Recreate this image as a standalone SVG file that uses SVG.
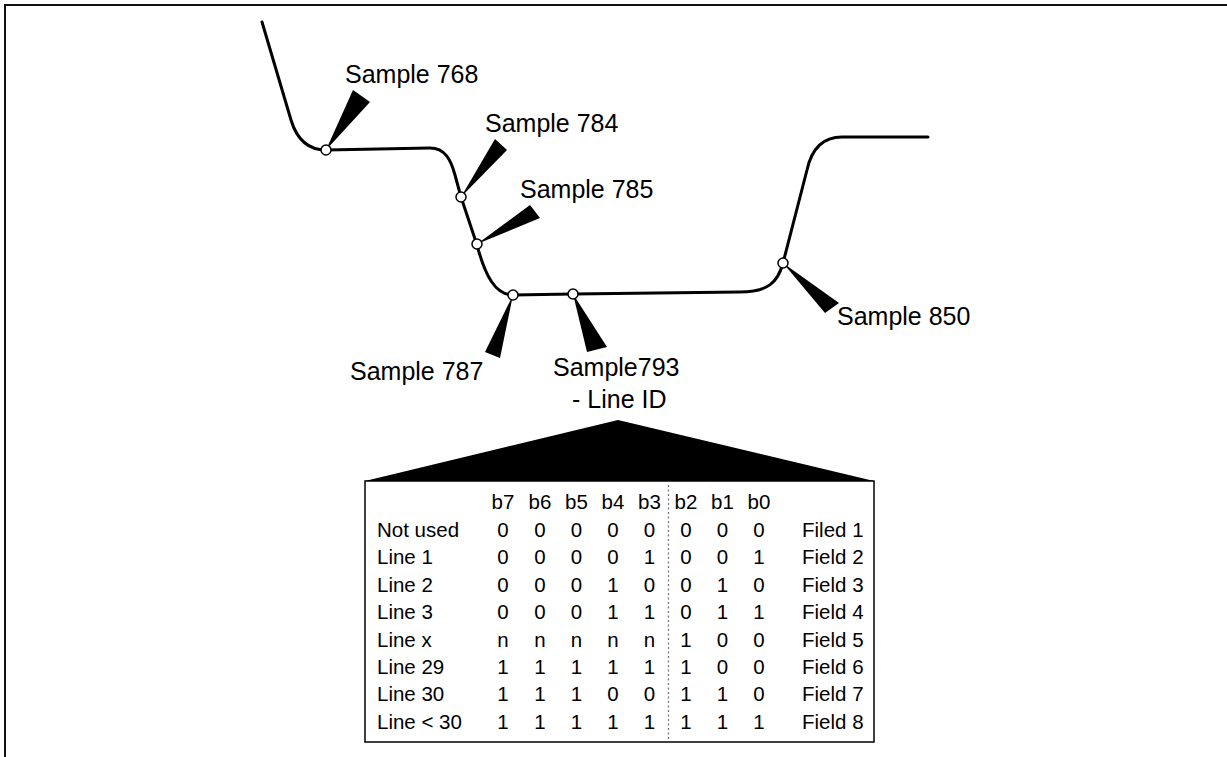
<svg xmlns="http://www.w3.org/2000/svg" width="1227" height="757" viewBox="0 0 1227 757">
<style>
.lbl{font-family:"Liberation Sans",Arial,sans-serif;font-size:25px;fill:#000}
.t{font-family:"Liberation Sans",Arial,sans-serif;font-size:20.5px;fill:#000}
.c{text-anchor:middle}
.wedge{fill:#000;stroke:none}
.pt{fill:#fff;stroke:#000;stroke-width:1.5}
.wave{fill:none;stroke:#000;stroke-width:3;stroke-linecap:round;stroke-linejoin:round}
</style>
<rect x="0" y="0" width="1227" height="757" fill="#fff"/>
<g id="frame">
<line x1="4" y1="5" x2="1227" y2="5" stroke="#111" stroke-width="2"/>
<line x1="5" y1="4" x2="5" y2="757" stroke="#111" stroke-width="2"/>
</g>
<g id="connectors">
<path id="waveform" class="wave" d="M262,22 L291,120 C297,140 308,150 326,150 L430,148 C445,148 451,160 455,175 L461,197 L477,245 C485,275 495,295 513,295 L573,294 L740,292 C768,292 778,282 783,263 L807,170 C812,147 825,137 842,137 L928,137"/>
<polygon class="wedge" points="326,150 353,90 370,102"/>
<polygon class="wedge" points="461,197 495,139 507,150"/>
<polygon class="wedge" points="477,244 530,205 540,218"/>
<polygon class="wedge" points="513,295 485,352 500,358"/>
<polygon class="wedge" points="573,294 587,352 607,347"/>
<polygon class="wedge" points="783,263 825,313 839,303"/>
<polygon class="wedge" points="618,420 365,481 874,481"/>
</g>
<g id="s768"><circle class="pt" cx="326" cy="150" r="5"/><text class="lbl" x="345" y="83">Sample 768</text></g>
<g id="s784"><circle class="pt" cx="461" cy="197" r="5"/><text class="lbl" x="485" y="132">Sample 784</text></g>
<g id="s785"><circle class="pt" cx="477" cy="244" r="5"/><text class="lbl" x="520" y="198">Sample 785</text></g>
<g id="s787"><circle class="pt" cx="513" cy="295" r="5"/><text class="lbl" x="350" y="380">Sample 787</text></g>
<g id="s793"><circle class="pt" cx="573" cy="294" r="5"/><text class="lbl" x="553" y="376">Sample793</text><text class="lbl" x="572" y="408">- Line ID</text></g>
<g id="s850"><circle class="pt" cx="783" cy="263" r="5"/><text class="lbl" x="837" y="325">Sample 850</text></g>
<g id="table">
<rect x="365" y="481" width="509" height="261" fill="#fff" stroke="#000" stroke-width="1.5"/>
<line x1="668.5" y1="485" x2="668.5" y2="740" stroke="#777" stroke-width="1.3" stroke-dasharray="2,2.5"/>
<g class="t c">
<text x="503" y="509">b7</text><text x="540" y="509">b6</text><text x="576.5" y="509">b5</text><text x="613" y="509">b4</text><text x="649.5" y="509">b3</text><text x="686" y="509">b2</text><text x="722.5" y="509">b1</text><text x="759" y="509">b0</text>
</g>
<g class="t">
<text x="377" y="537">Not used</text>
<text x="377" y="564.4">Line 1</text>
<text x="377" y="591.8">Line 2</text>
<text x="377" y="619.2">Line 3</text>
<text x="377" y="646.6">Line x</text>
<text x="377" y="674">Line 29</text>
<text x="377" y="701.4">Line 30</text>
<text x="377" y="728.8">Line &lt; 30</text>
<text x="802" y="537">Filed 1</text>
<text x="802" y="564.4">Field 2</text>
<text x="802" y="591.8">Field 3</text>
<text x="802" y="619.2">Field 4</text>
<text x="802" y="646.6">Field 5</text>
<text x="802" y="674">Field 6</text>
<text x="802" y="701.4">Field 7</text>
<text x="802" y="728.8">Field 8</text>
</g>
<g class="t c">
<text y="537"><tspan x="503">0</tspan><tspan x="540">0</tspan><tspan x="576.5">0</tspan><tspan x="613">0</tspan><tspan x="649.5">0</tspan><tspan x="686">0</tspan><tspan x="722.5">0</tspan><tspan x="759">0</tspan></text>
<text y="564.4"><tspan x="503">0</tspan><tspan x="540">0</tspan><tspan x="576.5">0</tspan><tspan x="613">0</tspan><tspan x="649.5">1</tspan><tspan x="686">0</tspan><tspan x="722.5">0</tspan><tspan x="759">1</tspan></text>
<text y="591.8"><tspan x="503">0</tspan><tspan x="540">0</tspan><tspan x="576.5">0</tspan><tspan x="613">1</tspan><tspan x="649.5">0</tspan><tspan x="686">0</tspan><tspan x="722.5">1</tspan><tspan x="759">0</tspan></text>
<text y="619.2"><tspan x="503">0</tspan><tspan x="540">0</tspan><tspan x="576.5">0</tspan><tspan x="613">1</tspan><tspan x="649.5">1</tspan><tspan x="686">0</tspan><tspan x="722.5">1</tspan><tspan x="759">1</tspan></text>
<text y="646.6"><tspan x="503">n</tspan><tspan x="540">n</tspan><tspan x="576.5">n</tspan><tspan x="613">n</tspan><tspan x="649.5">n</tspan><tspan x="686">1</tspan><tspan x="722.5">0</tspan><tspan x="759">0</tspan></text>
<text y="674"><tspan x="503">1</tspan><tspan x="540">1</tspan><tspan x="576.5">1</tspan><tspan x="613">1</tspan><tspan x="649.5">1</tspan><tspan x="686">1</tspan><tspan x="722.5">0</tspan><tspan x="759">0</tspan></text>
<text y="701.4"><tspan x="503">1</tspan><tspan x="540">1</tspan><tspan x="576.5">1</tspan><tspan x="613">0</tspan><tspan x="649.5">0</tspan><tspan x="686">1</tspan><tspan x="722.5">1</tspan><tspan x="759">0</tspan></text>
<text y="728.8"><tspan x="503">1</tspan><tspan x="540">1</tspan><tspan x="576.5">1</tspan><tspan x="613">1</tspan><tspan x="649.5">1</tspan><tspan x="686">1</tspan><tspan x="722.5">1</tspan><tspan x="759">1</tspan></text>
</g>
</g>
</svg>
